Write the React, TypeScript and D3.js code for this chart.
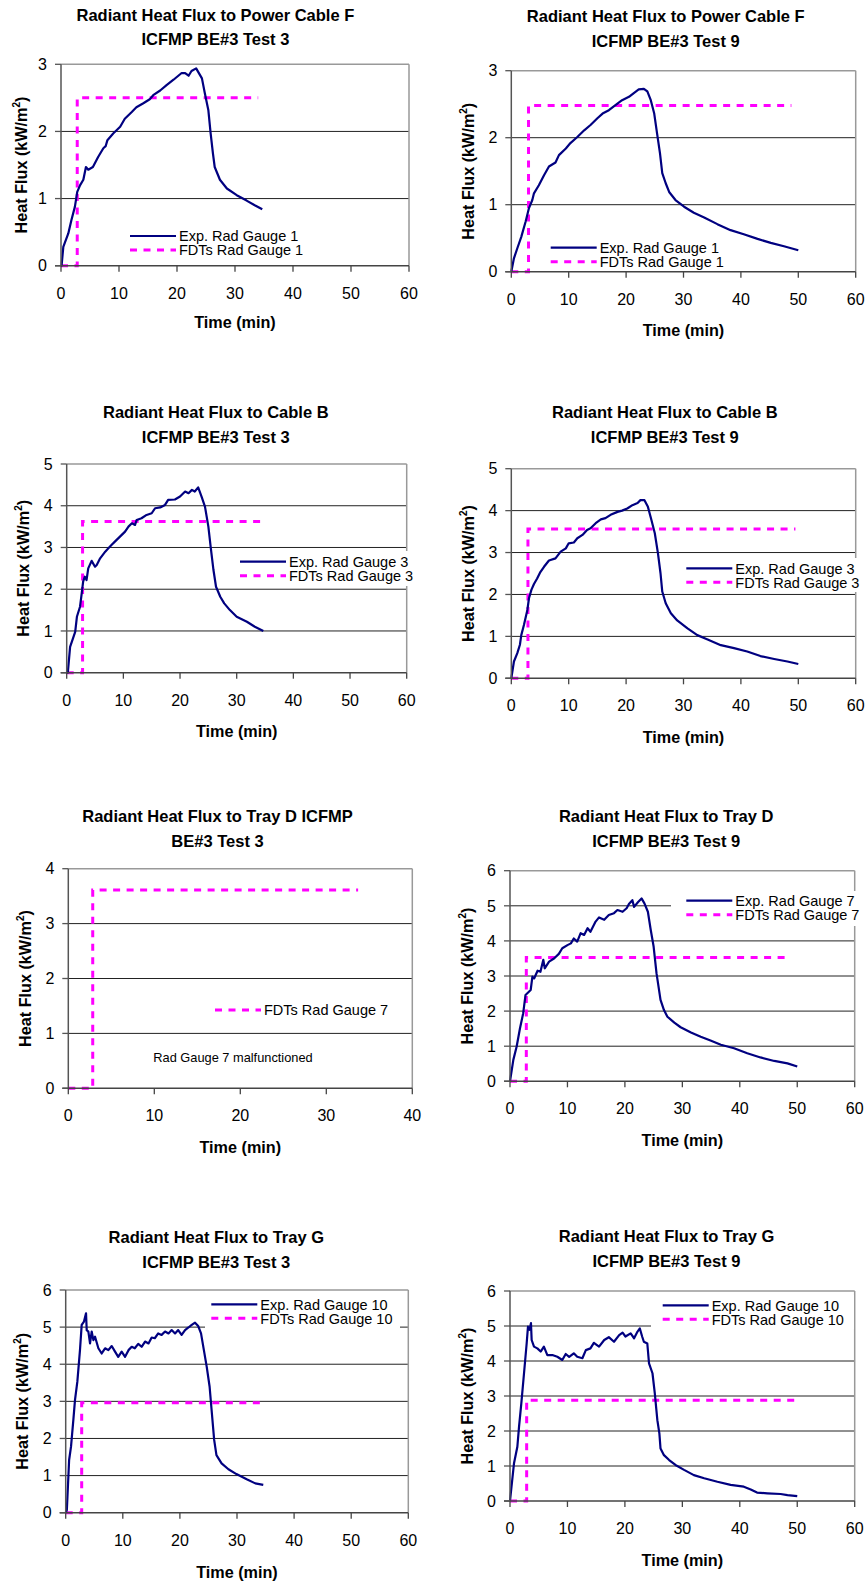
import React from "react";
import * as d3 from "d3";

type Pt = [number, number];

// ================= DATA =================
const titles: string[][] = [
  ["Radiant Heat Flux to Power Cable F", "ICFMP BE#3 Test 3"],
  ["Radiant Heat Flux to Power Cable F", "ICFMP BE#3 Test 9"],
  ["Radiant Heat Flux to Cable B", "ICFMP BE#3 Test 3"],
  ["Radiant Heat Flux to Cable B", "ICFMP BE#3 Test 9"],
  ["Radiant Heat Flux to Tray D ICFMP", "BE#3 Test 3"],
  ["Radiant Heat Flux to Tray D", "ICFMP BE#3 Test 9"],
  ["Radiant Heat Flux to Tray G", "ICFMP BE#3 Test 3"],
  ["Radiant Heat Flux to Tray G", "ICFMP BE#3 Test 9"],
];
const xMaxes = [60, 60, 60, 60, 40, 60, 60, 60];
const yMaxes = [3, 3, 5, 5, 4, 6, 6, 6];
const xLabel = "Time (min)";
const yLabelMain = "Heat Flux (kW/m";
const yLabelSup = "2";
const expLabels: (string | null)[] = [
  "Exp. Rad Gauge 1", "Exp. Rad Gauge 1", "Exp. Rad Gauge 3", "Exp. Rad Gauge 3",
  null, "Exp. Rad Gauge 7", "Exp. Rad Gauge 10", "Exp. Rad Gauge 10",
];
const fdtLabels = [
  "FDTs Rad Gauge 1", "FDTs Rad Gauge 1", "FDTs Rad Gauge 3", "FDTs Rad Gauge 3",
  "FDTs Rad Gauge 7", "FDTs Rad Gauge 7", "FDTs Rad Gauge 10", "FDTs Rad Gauge 10",
];
const noteText = "Rad Gauge 7 malfunctioned";

// Experimental radiometer readings [time (min), flux (kW/m2)]
const cableF_T3: Pt[] = [
  [0, 0], [0.1, 0], [0.4, 0.28], [1.26, 0.48], [1.8, 0.68], [2.4, 0.88], [2.8, 1.1], [3.3, 1.2],
  [3.85, 1.28], [4.3, 1.47], [4.7, 1.43], [5.5, 1.47], [6.4, 1.62], [7.3, 1.75], [7.7, 1.78], [8.0, 1.87],
  [9.0, 1.97], [10.2, 2.07], [11.0, 2.19], [12.2, 2.29], [13.0, 2.36], [14.2, 2.42], [15.3, 2.48],
  [15.9, 2.54], [17.1, 2.61], [18.2, 2.69], [19.4, 2.77], [20.8, 2.87], [21.4, 2.87], [22.0, 2.83],
  [22.5, 2.9], [23.3, 2.94], [24.3, 2.79], [24.8, 2.57], [25.4, 2.32], [25.8, 1.97], [26.2, 1.67],
  [26.5, 1.47], [27.4, 1.28], [28.6, 1.15], [30.3, 1.05], [32.0, 0.97], [33.4, 0.9], [34.7, 0.84],
];
const cableF_T9: Pt[] = [
  [0, 0], [0.46, 0.2], [1.05, 0.35], [1.74, 0.52], [2.5, 0.75], [3.08, 0.95], [3.66, 1.07], [3.95, 1.17],
  [4.8, 1.29], [5.7, 1.44], [6.56, 1.57], [7.7, 1.63], [8.3, 1.74], [9.5, 1.84], [10.3, 1.92],
  [11.5, 2.01], [12.7, 2.11], [13.8, 2.19], [15, 2.29], [15.9, 2.36], [17, 2.41], [18.2, 2.49],
  [19.3, 2.56], [20.5, 2.61], [21.4, 2.67], [22.2, 2.72], [23.1, 2.73], [23.7, 2.69], [24.3, 2.56],
  [24.9, 2.36], [25.4, 2.06], [25.9, 1.77], [26.3, 1.47], [26.9, 1.32], [27.5, 1.19], [28.6, 1.07],
  [30.1, 0.97], [31.8, 0.88], [33.6, 0.81], [35.9, 0.71], [38.2, 0.62], [40.5, 0.56], [42.9, 0.49],
  [45.2, 0.43], [47.5, 0.38], [50, 0.32],
];
const cableB_T3: Pt[] = [
  [0, 0], [0.2, 0], [0.6, 0.62], [1.2, 0.86], [1.5, 0.98], [1.8, 1.34], [2.35, 1.58], [2.65, 1.9],
  [2.9, 2.18], [3.2, 2.3], [3.5, 2.22], [3.8, 2.5], [4.4, 2.68], [5, 2.54], [5.3, 2.58], [5.9, 2.74],
  [6.8, 2.9], [7.35, 2.98], [7.9, 3.06], [8.5, 3.14], [9.4, 3.26], [10.3, 3.38], [10.9, 3.5],
  [11.5, 3.58], [12.06, 3.54], [12.35, 3.66], [13.2, 3.7], [14.1, 3.78], [15, 3.82], [15.6, 3.94],
  [16.5, 3.96], [17.35, 4.02], [17.9, 4.14], [19.1, 4.15], [20, 4.22], [20.9, 4.34], [21.5, 4.3],
  [22.1, 4.38], [22.6, 4.34], [23.2, 4.44], [23.8, 4.22], [24.4, 3.98], [25, 3.5], [25.4, 3.02],
  [25.9, 2.46], [26.35, 2.06], [27.1, 1.82], [27.8, 1.66], [28.8, 1.5], [30, 1.34], [31.8, 1.22],
  [33.2, 1.1], [34.7, 1.0],
];
const cableB_T9: Pt[] = [
  [0, 0], [0.46, 0.4], [1.05, 0.6], [1.5, 0.8], [1.74, 1.03], [2.2, 1.27], [2.8, 1.63], [3.08, 1.91],
  [3.5, 2.11], [3.95, 2.25], [4.5, 2.38], [5, 2.52], [5.7, 2.66], [6.56, 2.81], [7.7, 2.86],
  [8.6, 3.02], [9.5, 3.1], [10, 3.22], [10.9, 3.24], [11.5, 3.34], [12.4, 3.42], [13.2, 3.54],
  [13.8, 3.58], [14.7, 3.7], [15.6, 3.79], [16.4, 3.82], [17.3, 3.9], [18.5, 3.97], [19.3, 4.0],
  [20.2, 4.05], [21.1, 4.13], [22, 4.18], [22.5, 4.25], [23.2, 4.25], [23.8, 4.09], [24.4, 3.78],
  [25, 3.46], [25.55, 2.98], [26, 2.5], [26.3, 2.07], [26.9, 1.79], [27.8, 1.55], [28.9, 1.38],
  [30.7, 1.19], [32.4, 1.03], [34.1, 0.93], [36.5, 0.79], [38.8, 0.72], [41.1, 0.64], [43.4, 0.53],
  [45.8, 0.46], [48.1, 0.4], [50, 0.34],
];
const trayD_T9: Pt[] = [
  [0, 0], [0.58, 0.61], [1.16, 0.99], [1.74, 1.51], [2.3, 1.94], [2.7, 2.46], [3.6, 2.6], [3.9, 2.98],
  [4.2, 2.93], [4.8, 3.15], [5.3, 3.12], [5.8, 3.46], [6.05, 3.22], [6.8, 3.41], [7.66, 3.5],
  [8.5, 3.63], [9.1, 3.79], [10, 3.88], [10.6, 3.93], [11.1, 4.07], [11.7, 3.98], [12.3, 4.22],
  [12.9, 4.17], [13.5, 4.36], [14, 4.26], [14.9, 4.55], [15.5, 4.67], [16.4, 4.6], [17.2, 4.74],
  [18.1, 4.79], [18.7, 4.88], [19.6, 4.83], [20.3, 4.93], [20.7, 5.05], [21.3, 5.16], [21.6, 4.97],
  [22.3, 5.11], [22.9, 5.21], [23.4, 5.07], [24, 4.83], [24.5, 4.31], [25, 3.84], [25.5, 3.08],
  [26.2, 2.32], [26.8, 2.03], [27.4, 1.84], [28.6, 1.67], [29.7, 1.54], [31.5, 1.39], [33.2, 1.27],
  [34.9, 1.16], [36.7, 1.04], [39, 0.94], [41.3, 0.8], [43.6, 0.68], [46, 0.58], [48.3, 0.51],
  [50, 0.42],
];
const trayG_T3: Pt[] = [
  [0, 0], [0.2, 0.07], [0.6, 1.42], [0.93, 1.78], [1.34, 2.5], [1.63, 3.04], [2.04, 3.53], [2.5, 4.38],
  [2.8, 5.06], [3.2, 5.15], [3.56, 5.37], [3.68, 4.92], [3.97, 4.88], [4.26, 4.56], [4.55, 4.88],
  [4.85, 4.65], [5.14, 4.74], [5.72, 4.43], [6.3, 4.29], [6.9, 4.43], [7.47, 4.38], [8.06, 4.49],
  [8.64, 4.34], [9.2, 4.2], [9.8, 4.34], [10.4, 4.2], [11, 4.38], [11.56, 4.47], [12.1, 4.43],
  [12.7, 4.55], [13.3, 4.47], [13.9, 4.61], [14.5, 4.56], [15.06, 4.72], [15.6, 4.7], [16.2, 4.83],
  [16.8, 4.79], [17.4, 4.88], [18, 4.83], [18.56, 4.92], [19.15, 4.83], [19.7, 4.92], [20.3, 4.79],
  [20.9, 4.92], [21.5, 4.99], [22.07, 5.06], [22.65, 5.12], [23.2, 5.03], [23.7, 4.83], [24.2, 4.38],
  [24.7, 3.93], [25.2, 3.4], [25.6, 2.68], [26, 1.96], [26.4, 1.55], [27.3, 1.33], [28.5, 1.17],
  [29.9, 1.04], [31.7, 0.9], [33.2, 0.79], [34.6, 0.75],
];
const trayG_T9: Pt[] = [
  [0, 0], [0.7, 1.08], [1.28, 1.55], [1.57, 2.12], [1.97, 2.79], [2.44, 3.65], [2.9, 4.5], [3.13, 4.98],
  [3.4, 4.89], [3.65, 5.08], [3.77, 4.6], [4.18, 4.41], [4.76, 4.36], [5.34, 4.27], [5.9, 4.41],
  [6.5, 4.17], [7.37, 4.17], [8.24, 4.12], [9.1, 4.03], [9.7, 4.2], [10.3, 4.12], [11.1, 4.22],
  [11.7, 4.12], [12.6, 4.08], [13.2, 4.31], [14, 4.36], [14.6, 4.52], [15.5, 4.41], [16.4, 4.6],
  [17.2, 4.68], [18.1, 4.55], [19, 4.74], [19.6, 4.81], [20.1, 4.7], [21, 4.79], [21.6, 4.65],
  [22.2, 4.84], [22.6, 4.93], [23, 4.7], [23.3, 4.55], [23.9, 4.5], [24.2, 3.93], [24.8, 3.65],
  [25.2, 3.08], [25.65, 2.31], [26, 1.93], [26.2, 1.5], [26.8, 1.31], [27.7, 1.17], [28.8, 1.03],
  [30.3, 0.89], [32, 0.74], [33.8, 0.65], [36.1, 0.55], [38.4, 0.46], [40.7, 0.41], [41.9, 0.33],
  [43, 0.24], [44.8, 0.22], [47.1, 0.2], [48.3, 0.17], [50, 0.14],
];
const expSeries: (Pt[] | null)[] = [cableF_T3, cableF_T9, cableB_T3, cableB_T9, null, trayD_T9, trayG_T3, trayG_T9];

// FDTs predictions: step at fire onset, constant afterwards [time, flux]
const fdtOnset = [2.8, 3.0, 2.8, 2.9, 2.84, 2.84, 2.8, 2.9];
const fdtEnd = [34.0, 48.8, 34.7, 49.5, 33.7, 48.9, 34.6, 49.8];
const fdtLevel = [2.5, 2.48, 3.62, 3.56, 3.61, 3.53, 2.96, 2.88];

// ================= LAYOUT =================
interface Lay {
  l: number; r: number; t: number; b: number;
  titleX: number; titleY: [number, number];
  yLabX: number; xLabY: number;
  legX: number; legY: number; bg: [number, number, number, number];
  note?: [number, number];
}
const layouts: Lay[] = [
  { l: 61, r: 409, t: 64.3, b: 265.7, titleX: 215.4, titleY: [20.7, 45], yLabX: 27.3, xLabY: 328,
    legX: 130, legY: 236, bg: [118, 226, 312, 259] },
  { l: 511.3, r: 855.7, t: 70.7, b: 271.7, titleX: 665.7, titleY: [21.7, 46.5], yLabX: 474, xLabY: 336,
    legX: 550.7, legY: 247.7, bg: [539, 238, 732, 270] },
  { l: 66.7, r: 406.7, t: 464, b: 672.7, titleX: 215.8, titleY: [418.3, 443.3], yLabX: 29.3, xLabY: 736.7,
    legX: 240, legY: 561.7, bg: [228, 551, 417, 586] },
  { l: 511.3, r: 855.7, t: 468.7, b: 678.3, titleX: 664.8, titleY: [418.3, 442.7], yLabX: 474, xLabY: 743.3,
    legX: 686.3, legY: 568.3, bg: [675, 558, 862, 592] },
  { l: 68.3, r: 412.3, t: 868.7, b: 1088.3, titleX: 217.5, titleY: [822.3, 846.7], yLabX: 30.7, xLabY: 1153.3,
    legX: 215, legY: 1010, bg: [203, 1000, 396, 1020], note: [153.3, 1061.7] },
  { l: 510, r: 854.7, t: 870.7, b: 1081.3, titleX: 666.2, titleY: [822.3, 846.7], yLabX: 473.3, xLabY: 1146,
    legX: 686.3, legY: 900.7, bg: [671, 891, 862, 926] },
  { l: 65.7, r: 408.3, t: 1290, b: 1512.7, titleX: 216.3, titleY: [1242.7, 1267.7], yLabX: 28.3, xLabY: 1577.7,
    legX: 211.3, legY: 1304.3, bg: [205, 1294, 400, 1329] },
  { l: 510, r: 854.7, t: 1291, b: 1501, titleX: 666.5, titleY: [1242.3, 1266.7], yLabX: 473.3, xLabY: 1566,
    legX: 662.7, legY: 1305.3, bg: [651, 1295, 854, 1329] },
];

const FONT = '"Liberation Sans", Arial, Helvetica, sans-serif';
const NAVY = "#000080";
const MAGENTA = "#FF00FF";
const DASH = "7,6.5";

function Panel({ i }: { i: number }) {
  const L = layouts[i];
  const x = d3.scaleLinear().domain([0, xMaxes[i]]).range([L.l, L.r]);
  const y = d3.scaleLinear().domain([0, yMaxes[i]]).range([L.b, L.t]);
  const xTicks = x.ticks(xMaxes[i] / 10);
  const yTicks = y.ticks(yMaxes[i]);
  const line = d3.line<Pt>().x((d) => x(d[0])).y((d) => y(d[1]));
  const fdt: Pt[] = [
    [0, 0],
    [fdtOnset[i], 0],
    [fdtOnset[i], fdtLevel[i]],
    [fdtEnd[i], fdtLevel[i]],
  ];
  const exp = expSeries[i];
  const rows: { label: string; kind: "exp" | "fdt" }[] = [];
  if (expLabels[i]) rows.push({ label: expLabels[i] as string, kind: "exp" });
  rows.push({ label: fdtLabels[i], kind: "fdt" });

  return (
    <g>
      {titles[i].map((s, k) => (
        <text key={k} x={L.titleX} y={L.titleY[k]} textAnchor="middle" fontFamily={FONT}
          fontWeight="bold" fontSize={16.5} fill="#000">{s}</text>
      ))}
      {/* gridlines */}
      {yTicks.filter((v) => v > 0 && v < yMaxes[i]).map((v) => (
        <line key={v} x1={L.l} x2={L.r} y1={y(v)} y2={y(v)} stroke="#222" strokeWidth={1} />
      ))}
      {/* series */}
      <path d={line(fdt) || ""} fill="none" stroke={MAGENTA} strokeWidth={3} strokeDasharray={DASH} />
      {exp && (
        <path d={line(exp) || ""} fill="none" stroke={NAVY} strokeWidth={2.2} strokeLinejoin="round" />
      )}
      {/* frame */}
      <line x1={L.l} x2={L.r} y1={L.t} y2={L.t} stroke="#999" strokeWidth={1.5} />
      <line x1={L.r} x2={L.r} y1={L.t} y2={L.b} stroke="#999" strokeWidth={1.5} />
      <line x1={L.l} x2={L.l} y1={L.t} y2={L.b} stroke="#555" strokeWidth={1.5} />
      <line x1={L.l - 6} x2={L.r} y1={L.b} y2={L.b} stroke="#444" strokeWidth={1.5} />
      {yTicks.map((v) => (
        <g key={"y" + v}>
          <line x1={L.l - 6} x2={L.l} y1={y(v)} y2={y(v)} stroke="#555" strokeWidth={1.3} />
          <text x={L.l - 14} y={y(v) + 5.7} textAnchor="end" fontFamily={FONT} fontSize={16} fill="#000">{v}</text>
        </g>
      ))}
      {xTicks.map((v) => (
        <g key={"x" + v}>
          <line x1={x(v)} x2={x(v)} y1={L.b} y2={L.b + 6} stroke="#444" strokeWidth={1.3} />
          <text x={x(v)} y={L.b + 33} textAnchor="middle" fontFamily={FONT} fontSize={16} fill="#000">{v}</text>
        </g>
      ))}
      {/* axis titles */}
      <text x={(L.l + L.r) / 2} y={L.xLabY} textAnchor="middle" fontFamily={FONT} fontWeight="bold"
        fontSize={16.2} fill="#000">{xLabel}</text>
      <text transform={`translate(${L.yLabX},${(L.t + L.b) / 2}) rotate(-90)`} textAnchor="middle"
        fontFamily={FONT} fontWeight="bold" fontSize={16.2} fill="#000">
        {yLabelMain}
        <tspan fontSize={10} dy={-7}>{yLabelSup}</tspan>
        <tspan dy={7}>)</tspan>
      </text>
      {/* legend */}
      <rect x={L.bg[0]} y={L.bg[1]} width={L.bg[2] - L.bg[0]} height={L.bg[3] - L.bg[1]} fill="#fff" />
      {rows.map((row, k) => {
        const ry = L.legY + k * 14;
        return (
          <g key={k}>
            <line x1={L.legX} x2={L.legX + 46} y1={ry} y2={ry}
              stroke={row.kind === "exp" ? NAVY : MAGENTA}
              strokeWidth={row.kind === "exp" ? 2.2 : 3}
              strokeDasharray={row.kind === "exp" ? undefined : DASH} />
            <text x={L.legX + 49} y={ry + 5.2} fontFamily={FONT} fontSize={14.5} fill="#000">{row.label}</text>
          </g>
        );
      })}
      {L.note && (
        <text x={L.note[0]} y={L.note[1]} fontFamily={FONT} fontSize={12.8} fill="#000">{noteText}</text>
      )}
    </g>
  );
}

export default function App() {
  return (
    <svg width={868} height={1585} viewBox="0 0 868 1585"
      style={{ position: "absolute", left: 0, top: 0, display: "block", background: "#fff" }}>
      <rect x={0} y={0} width={868} height={1585} fill="#fff" />
      {titles.map((_, i) => <Panel key={i} i={i} />)}
    </svg>
  );
}
